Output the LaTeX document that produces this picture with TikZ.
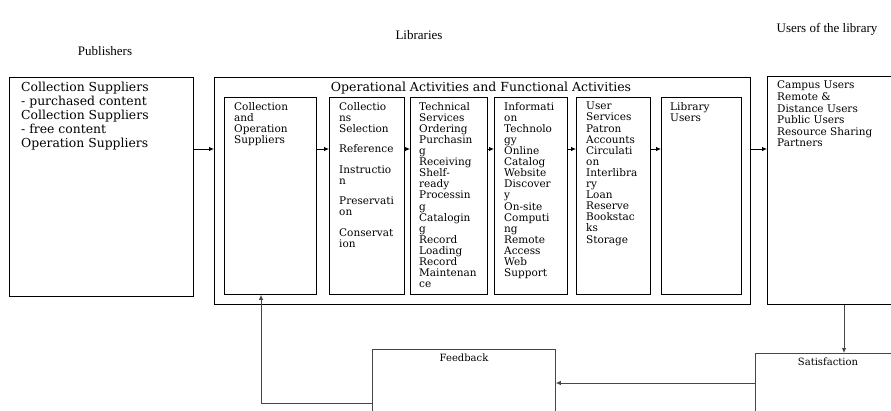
\documentclass[tikz,border=0pt]{standalone}
\usepackage{fontspec}
\setmainfont{DejaVu Serif}
\newfontfamily\headfont{Liberation Serif}
\usetikzlibrary{arrows.meta}
\definecolor{loopgray}{RGB}{70,70,70}

\tikzset{
  box/.style={draw, line width=0.8pt, anchor=north west, inner sep=0pt},
  boxtext/.style={anchor=north west, align=left, inner sep=0pt},
  small/.style={font=\fontsize{10.5}{11.1}\selectfont},
  head/.style={font=\headfont\fontsize{13}{15}\selectfont, inner sep=0pt},
  flow/.style={-{Latex[length=5pt,width=4.5pt]}, line width=0.8pt},
}

\begin{document}
\begin{tikzpicture}[x=1pt,y=-1pt]
  \clip (0,0) rectangle (891,410);

  % column headings
  \node[head] (publishers) at (105,51) {Publishers};
  \node[head] (libraries) at (419,35) {Libraries};
  \node[head] (users-head) at (827,29) {Users of the library};

  % publishers
  \node[box, minimum width=184pt, minimum height=219pt] (pub) at (9,77) {};
  \node[boxtext, font=\fontsize{12.4}{14}\selectfont] (pub-text) at ([shift={(12,5)}]pub.north west)
    {Collection Suppliers\\- purchased content\\Collection Suppliers\\- free content\\Operation Suppliers};

  % libraries
  \node[box, minimum width=536pt, minimum height=227pt] (ops) at (214,77) {};
  \node[font=\fontsize{12.5}{14}\selectfont, inner sep=0pt] (ops-title) at (481,88)
    {Operational Activities and Functional Activities};

  \node[box, minimum width=92pt, minimum height=197pt] (b1) at (224,97) {};
  \node[box, minimum width=75pt, minimum height=197pt] (b2) at (329,97) {};
  \node[box, minimum width=77pt, minimum height=197pt] (b3) at (410,97) {};
  \node[box, minimum width=73pt, minimum height=197pt] (b4) at (494,97) {};
  \node[box, minimum width=74pt, minimum height=197pt] (b5) at (576,97) {};
  \node[box, minimum width=80pt, minimum height=197pt] (b6) at (661,97) {};

  \node[boxtext, small] (b1-text) at ([shift={(10,5)}]b1.north west)
    {Collection\\and\\Operation\\Suppliers};
  \node[boxtext, small] (b2-text) at ([shift={(10,5)}]b2.north west)
    {Collectio\\ns\\Selection\\[9pt]Reference\\[9.5pt]Instructio\\n\\[9.5pt]Preservati\\on\\[9.5pt]Conservat\\ion};
  \node[boxtext, small] (b3-text) at ([shift={(9,5)}]b3.north west)
    {Technical\\Services\\Ordering\\Purchasin\\g\\Receiving\\Shelf-\\ready\\Processin\\g\\Catalogin\\g\\Record\\Loading\\Record\\Maintenan\\ce};
  \node[boxtext, small] (b4-text) at ([shift={(10,5)}]b4.north west)
    {Informati\\on\\Technolo\\gy\\Online\\Catalog\\Website\\Discover\\y\\On-site\\Computi\\ng\\Remote\\Access\\Web\\Support};
  \node[boxtext, small] (b5-text) at ([shift={(10,5)}]b5.north west)
    {User\\Services\\Patron\\Accounts\\Circulati\\on\\Interlibra\\ry\\Loan\\Reserve\\Bookstac\\ks\\Storage};
  \node[boxtext, small] (b6-text) at ([shift={(9,5)}]b6.north west)
    {Library\\Users};

  % users
  \node[box, minimum width=134pt, minimum height=228pt] (users) at (767,76) {};
  \node[boxtext, font=\fontsize{10.5}{11.6}\selectfont] (users-text) at ([shift={(10,5)}]users.north west)
    {Campus Users\\Remote \&\\Distance Users\\Public Users\\Resource Sharing\\Partners};

  % feedback loop
  \node[box, draw=loopgray, minimum width=146pt, minimum height=70pt] (sat) at (755,353) {};
  \node[font=\fontsize{10}{12}\selectfont, inner sep=0pt] (sat-text) at (828,362) {Satisfaction};
  \node[box, draw=loopgray, minimum width=183pt, minimum height=70pt] (fb) at (372,349) {};
  \node[font=\fontsize{10}{12}\selectfont, inner sep=0pt] (fb-text) at (464,358) {Feedback};

  % connectors
  \coordinate (row) at (0,149);
  \coordinate (drop) at (844,0);
  \coordinate (back) at (0,383);
  \coordinate (ret) at (261,403);

  \draw[flow] (pub.east |- row) -- (ops.west |- row);
  \foreach \a/\b in {b1/b2, b2/b3, b3/b4, b4/b5, b5/b6}
    \draw[flow] (\a.east |- row) -- (\b.west |- row);
  \draw[flow] (ops.east |- row) -- (users.west |- row);
  \draw[flow, loopgray] (users.south -| drop) -- (sat.north -| drop);
  \draw[flow, loopgray] (sat.west |- back) -- (fb.east |- back);
  \draw[flow, loopgray] (fb.west |- ret) -- (ret) -- (b1.south -| ret);
\end{tikzpicture}
\end{document}
